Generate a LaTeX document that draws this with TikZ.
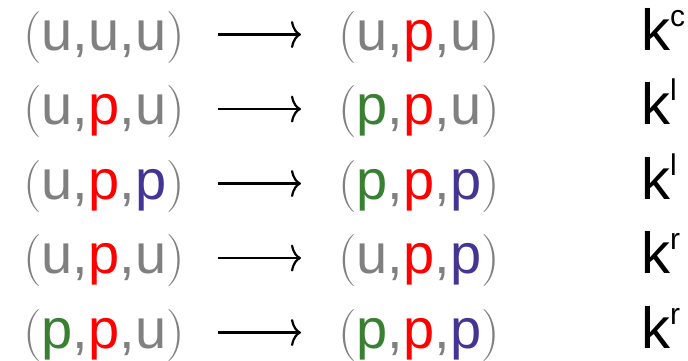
\documentclass[tikz,border=0pt]{standalone}
\usepackage{fontspec}
\setsansfont{Liberation Sans}
\usetikzlibrary{arrows.meta}

\definecolor{tgray}{RGB}{128,128,128}
\definecolor{pred}{RGB}{255,0,0}
\definecolor{pgreen}{RGB}{58,128,50}
\definecolor{pblue}{RGB}{68,52,148}

% a tuple of three sites, thin roman parens round sans letters
\newcommand{\tpl}[3]{{\rmfamily\fontsize{52}{60}\selectfont(}#1,#2,#3{\rmfamily\fontsize{52}{60}\selectfont)}}
\newcommand{\sP}[1]{\textcolor{#1}{p}}
\newcommand{\rate}[2]{k\raisebox{#2}{\fontsize{30}{30}\selectfont #1}}

\begin{document}
\begin{tikzpicture}[x=1pt,y=-1pt,
    tuple/.style={font=\fontsize{56}{60}\selectfont\sffamily,text=tgray,inner sep=0pt,anchor=base west},
    rate/.style={font=\fontsize{58}{60}\selectfont\sffamily,inner sep=0pt,anchor=base west},
    arr/.style={line width=2.2pt,-{Computer Modern Rightarrow[length=10pt,width=27pt]},shorten <=33pt,shorten >=37pt}]
  \useasboundingbox (0,0) rectangle (688,360);

  % row 1
  \node[tuple] (l1) at (23,50) {\tpl{u}{u}{u}};
  \node[tuple] (r1) at (338,50) {\tpl{u}{\sP{pred}}{u}};
  \node[rate] (k1) at (641,50) {\rate{c}{24pt}};
  \draw[arr] ([yshift=2.5pt]l1.east) -- ([yshift=2.5pt]r1.west);

  % row 2
  \node[tuple] (l2) at (23,124.5) {\tpl{u}{\sP{pred}}{u}};
  \node[tuple] (r2) at (338,124.5) {\tpl{\sP{pgreen}}{\sP{pred}}{u}};
  \node[rate] (k2) at (641,124.5) {\rate{l}{24pt}};
  \draw[arr] ([yshift=2.5pt]l2.east) -- ([yshift=2.5pt]r2.west);

  % row 3
  \node[tuple] (l3) at (23,199) {\tpl{u}{\sP{pred}}{\sP{pblue}}};
  \node[tuple] (r3) at (338,199) {\tpl{\sP{pgreen}}{\sP{pred}}{\sP{pblue}}};
  \node[rate] (k3) at (641,199) {\rate{l}{24pt}};
  \draw[arr] ([yshift=2.5pt]l3.east) -- ([yshift=2.5pt]r3.west);

  % row 4
  \node[tuple] (l4) at (23,273.5) {\tpl{u}{\sP{pred}}{u}};
  \node[tuple] (r4) at (338,273.5) {\tpl{u}{\sP{pred}}{\sP{pblue}}};
  \node[rate] (k4) at (641,273.5) {\rate{r}{24pt}};
  \draw[arr] ([yshift=2.5pt]l4.east) -- ([yshift=2.5pt]r4.west);

  % row 5
  \node[tuple] (l5) at (23,348) {\tpl{\sP{pgreen}}{\sP{pred}}{u}};
  \node[tuple] (r5) at (338,348) {\tpl{\sP{pgreen}}{\sP{pred}}{\sP{pblue}}};
  \node[rate] (k5) at (641,348) {\rate{r}{24pt}};
  \draw[arr] ([yshift=2.5pt]l5.east) -- ([yshift=2.5pt]r5.west);
\end{tikzpicture}
\end{document}
